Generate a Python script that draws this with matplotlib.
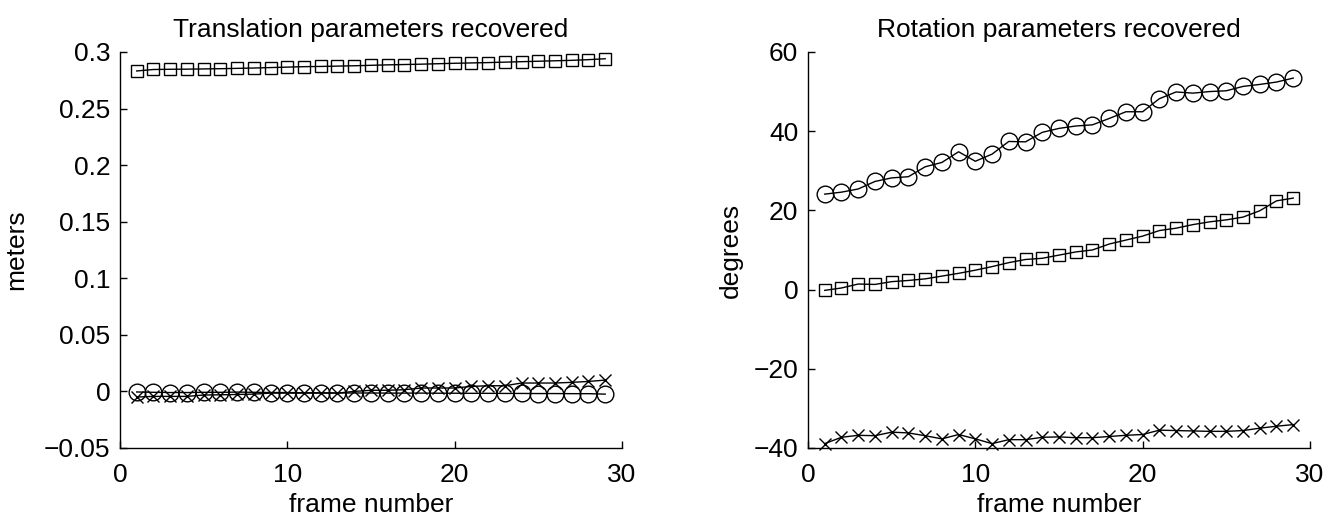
import numpy as np
import matplotlib
matplotlib.use("Agg")
import matplotlib.pyplot as plt

plt.rcParams['font.family'] = ['Liberation Sans', 'DejaVu Sans']

frames = list(range(1, 30))

# translation (meters)
trans_sq = [0.2832, 0.2845, 0.2847, 0.2848, 0.2850, 0.2852, 0.2855, 0.2858, 0.2862,
            0.2866, 0.2870, 0.2872, 0.2875, 0.2878, 0.2882, 0.2886, 0.2889, 0.2892,
            0.2896, 0.2900, 0.2903, 0.2906, 0.2910, 0.2914, 0.2918, 0.2922, 0.2926,
            0.2932, 0.2940]
trans_o = [-0.0005, -0.0008, -0.0010, -0.0010, -0.0008, -0.0008, -0.0006, -0.0008, -0.0010,
           -0.0010, -0.0012, -0.0012, -0.0014, -0.0014, -0.0014, -0.0015, -0.0015, -0.0015,
           -0.0016, -0.0016, -0.0017, -0.0017, -0.0018, -0.0018, -0.0019, -0.0019, -0.0020,
           -0.0020, -0.0024]
trans_x = [-0.0050, -0.0044, -0.0044, -0.0044, -0.0032, -0.0030, -0.0027, -0.0024, -0.0015,
           -0.0015, -0.0015, -0.0015, -0.0015, 0.0000, 0.0010, 0.0010, 0.0015, 0.0030,
           0.0030, 0.0030, 0.0044, 0.0050, 0.0050, 0.0074, 0.0074, 0.0074, 0.0080,
           0.0088, 0.0100]

# rotation (degrees)
rot_o = [24.1, 24.6, 25.4, 27.3, 28.2, 28.5, 31.0, 32.1, 34.8, 32.4, 34.2, 37.4, 37.3,
         39.7, 40.7, 41.3, 41.6, 43.2, 44.9, 44.9, 48.2, 49.9, 49.6, 50.0, 50.2, 51.3,
         51.8, 52.4, 53.4]
rot_sq = [-0.2, 0.4, 1.4, 1.3, 2.0, 2.3, 2.7, 3.4, 4.1, 4.9, 5.8, 6.8, 7.6, 7.9, 8.7,
          9.5, 10.0, 11.5, 12.5, 13.5, 14.9, 15.5, 16.4, 17.1, 17.6, 18.3, 19.9, 22.4, 23.1]
rot_x = [-38.9, -37.3, -36.8, -36.9, -36.0, -36.2, -36.9, -37.7, -36.6, -37.7, -38.9,
         -37.9, -37.9, -37.3, -37.2, -37.4, -37.4, -37.1, -36.8, -36.6, -35.5, -35.6,
         -35.7, -35.8, -35.8, -35.6, -35.0, -34.5, -34.1]

fig = plt.figure(figsize=(13.36, 5.17), dpi=100)
ax1 = fig.add_axes([0.0898, 0.1335, 0.3757, 0.766])
ax2 = fig.add_axes([0.6048, 0.1335, 0.3757, 0.766])

fs = 19
kw = dict(color='black', linewidth=1.0, markerfacecolor='none', markeredgecolor='black',
          markeredgewidth=1.0)

ax1.plot(frames, trans_sq, marker='s', markersize=9, **kw)
ax1.plot(frames, trans_o, marker='o', markersize=12, **kw)
ax1.plot(frames, trans_x, marker='x', markersize=9, **kw)
ax1.set_xlim(0, 30)
ax1.set_ylim(-0.05, 0.3)
ax1.set_yticks([-0.05, 0, 0.05, 0.1, 0.15, 0.2, 0.25, 0.3])
ax1.set_yticklabels(['\u22120.05', '0', '0.05', '0.1', '0.15', '0.2', '0.25', '0.3'])
ax1.set_xticks([0, 10, 20, 30])
ax1.set_title('Translation parameters recovered', fontsize=fs, pad=11)
ax1.set_xlabel('frame number', fontsize=fs, labelpad=4)
ax1.set_ylabel('meters', fontsize=fs, labelpad=11)

ax2.plot(frames, rot_o, marker='o', markersize=12, **kw)
ax2.plot(frames, rot_sq, marker='s', markersize=9, **kw)
ax2.plot(frames, rot_x, marker='x', markersize=9, **kw)
ax2.set_xlim(0, 30)
ax2.set_ylim(-40, 60)
ax2.set_yticks([-40, -20, 0, 20, 40, 60])
ax2.set_yticklabels(['\u221240', '\u221220', '0', '20', '40', '60'])
ax2.set_xticks([0, 10, 20, 30])
ax2.set_title('Rotation parameters recovered', fontsize=fs, pad=11)
ax2.set_xlabel('frame number', fontsize=fs, labelpad=4)
ax2.set_ylabel('degrees', fontsize=fs, labelpad=8)

for ax in (ax1, ax2):
    ax.spines['top'].set_visible(False)
    ax.spines['right'].set_visible(False)
    for s in ('left', 'bottom'):
        ax.spines[s].set_linewidth(1.0)
    ax.tick_params(direction='in', length=5, width=1.0, labelsize=fs)
    ax.tick_params(axis='x', pad=11)
    ax.tick_params(axis='y', pad=7)
    for ln in ax.lines:
        ln.set_clip_on(False)

fig.savefig('out.png', dpi=100)
